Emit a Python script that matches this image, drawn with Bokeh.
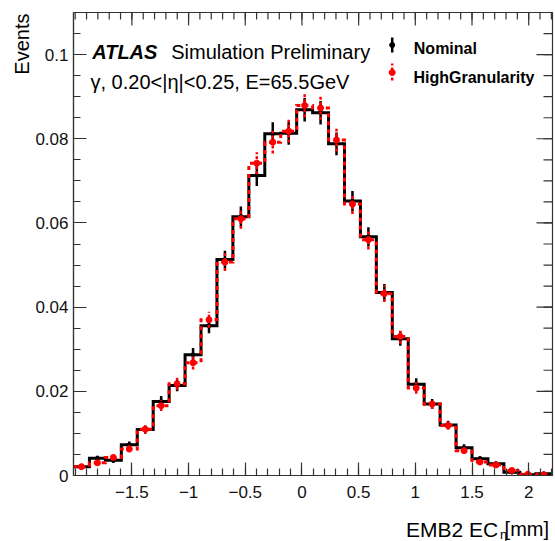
import numpy as np
from bokeh.plotting import figure
from bokeh.models import FixedTicker, Label, Range1d, Title
from bokeh.layouts import column
from bokeh.embed import file_html
from bokeh.resources import INLINE

# ---------------- data ----------------
bin_lo, bin_hi, n_bins = -2.015, 2.203, 30

nominal = [0.0021, 0.0041, 0.0036, 0.0073, 0.0109, 0.0176, 0.0214, 0.0287, 0.0356, 0.0513,
           0.0615, 0.0713, 0.0812, 0.0813, 0.0869, 0.0862, 0.0788, 0.0652, 0.0567, 0.0435,
           0.0325, 0.0217, 0.0170, 0.0120, 0.0066, 0.0040, 0.0028, 0.0008, 0.0002, 0.0004]
nominal_err = [0.0004, 0.0006, 0.0006, 0.0008, 0.0010, 0.0013, 0.0014, 0.0016, 0.0018, 0.0021,
               0.0024, 0.0025, 0.0027, 0.0027, 0.0028, 0.0028, 0.0027, 0.0024, 0.0023, 0.0020,
               0.0017, 0.0014, 0.0012, 0.0010, 0.0008, 0.0006, 0.0005, 0.0003, 0.0001, 0.0002]

highgran = [0.0021, 0.0030, 0.0043, 0.0063, 0.0110, 0.0166, 0.0218, 0.0268, 0.0370, 0.0507,
            0.0610, 0.0742, 0.0792, 0.0818, 0.0879, 0.0873, 0.0797, 0.0645, 0.0560, 0.0432,
            0.0330, 0.0208, 0.0170, 0.0119, 0.0059, 0.0032, 0.0025, 0.0012, 0.0003, 0.0002]
highgran_err = [0.0004, 0.0005, 0.0006, 0.0008, 0.0010, 0.0013, 0.0014, 0.0016, 0.0019, 0.0021,
                0.0024, 0.0026, 0.0027, 0.0027, 0.0028, 0.0028, 0.0027, 0.0024, 0.0023, 0.0020,
                0.0017, 0.0014, 0.0012, 0.0010, 0.0008, 0.0005, 0.0005, 0.0003, 0.0002, 0.0001]

x_ticks = [-1.5, -1.0, -0.5, 0.0, 0.5, 1.0, 1.5, 2.0]
x_tick_labels = ["\u22121.5", "\u22121", "\u22120.5", "0", "0.5", "1", "1.5", "2"]
y_ticks = [0.0, 0.02, 0.04, 0.06, 0.08, 0.1]
y_tick_labels = ["0", "0.02", "0.04", "0.06", "0.08", "0.1"]

series_names = ["Nominal", "HighGranularity"]

# ---------------- layout ----------------
X_START, X_END = -2.015, 2.21
Y_START, Y_END = 0.0, 0.11
W = 555
H_MAIN, H_TITLE = 510, 31
FL, FR, FT, FB = 73, 552, 12, 475  # frame edges in pixels
FONT = "Liberation Sans"
AX = "#333333"
RED = "#ff0000"

edges = np.linspace(bin_lo, bin_hi, n_bins + 1)
centers = 0.5 * (edges[:-1] + edges[1:])

XPP = (X_END - X_START) / (FR - FL)   # data per pixel
YPP = (Y_END - Y_START) / (FB - FT)

def px2x(px):
    return X_START + (px - FL) * XPP

def px2y(py):
    return Y_START + (FB - py) * YPP

p = figure(width=W, height=H_MAIN, x_range=Range1d(X_START, X_END), y_range=Range1d(Y_START, Y_END),
           output_backend="svg", toolbar_location=None,
           min_border_left=FL, min_border_right=W - FR, min_border_top=FT, min_border_bottom=H_MAIN - FB)
p.grid.visible = False
p.outline_line_color = AX
p.outline_line_width = 1.2
p.background_fill_color = "white"
p.border_fill_color = "white"

x_minor = list(np.round(np.arange(-2.0, 2.21, 0.1), 3))
y_minor = list(np.round(np.arange(0.0, 0.1101, 0.005), 4))

def style_axis(ax, major_in, minor_in):
    ax.major_tick_in = major_in
    ax.major_tick_out = 0
    ax.minor_tick_in = minor_in
    ax.minor_tick_out = 0
    ax.major_tick_line_color = AX
    ax.minor_tick_line_color = AX
    ax.major_tick_line_width = 1.2
    ax.minor_tick_line_width = 1.2
    ax.axis_line_color = AX
    ax.axis_line_width = 1.2
    ax.major_label_text_font = FONT
    ax.major_label_text_font_size = "17px"
    ax.major_label_text_color = "#111111"

p.xaxis.ticker = FixedTicker(ticks=x_ticks, minor_ticks=x_minor)
p.xaxis.major_label_overrides = dict(zip(x_ticks, x_tick_labels))
style_axis(p.xaxis[0], 13, 7)
p.xaxis.major_label_standoff = 10

p.yaxis.ticker = FixedTicker(ticks=y_ticks, minor_ticks=y_minor)
p.yaxis.major_label_overrides = dict(zip(y_ticks, y_tick_labels))
style_axis(p.yaxis[0], 13, 7)
p.yaxis.major_label_standoff = 5

# ticks on the top and right frame edges (ROOT style), from the same tick lists
p.segment(x0=x_ticks, y0=[Y_END] * len(x_ticks), x1=x_ticks, y1=[Y_END - 13 * YPP] * len(x_ticks),
          line_color=AX, line_width=1.2)
p.segment(x0=x_minor, y0=[Y_END] * len(x_minor), x1=x_minor, y1=[Y_END - 7 * YPP] * len(x_minor),
          line_color=AX, line_width=1.2)
p.segment(x0=[X_END] * len(y_ticks), y0=y_ticks, x1=[X_END - 16 * XPP] * len(y_ticks), y1=y_ticks,
          line_color=AX, line_width=1.2)
p.segment(x0=[X_END] * len(y_minor), y0=y_minor, x1=[X_END - 9 * XPP] * len(y_minor), y1=y_minor,
          line_color=AX, line_width=1.2)

# y-axis title, aligned to the top as in ROOT
p.add_layout(Title(text="Events", align="right", text_font=FONT, text_font_size="20px",
                   text_font_style="normal", text_color="black", offset=1, standoff=0), "left")

# ---------------- histograms ----------------
nom_step = list(nominal) + [nominal[-1]]
hg_step = list(highgran) + [highgran[-1]]

p.step(x=edges, y=nom_step, mode="after", line_color="black", line_width=3, line_join="miter")
p.segment(x0=centers, y0=np.array(nominal) - np.array(nominal_err),
          x1=centers, y1=np.array(nominal) + np.array(nominal_err),
          line_color="black", line_width=2.5)
p.scatter(x=centers, y=nominal, size=4, color="black")

p.step(x=edges, y=hg_step, mode="after", line_color=RED, line_width=3,
       line_dash="4 4", line_join="miter")
p.segment(x0=centers, y0=np.array(highgran) - np.array(highgran_err),
          x1=centers, y1=np.array(highgran) + np.array(highgran_err),
          line_color=RED, line_width=2.5, line_dash="3 2")
p.scatter(x=centers, y=highgran, size=6, color=RED)

# ---------------- legend (manual) ----------------
lx = px2x(391.7)
p.segment(x0=[lx], y0=[px2y(52)], x1=[lx], y1=[px2y(37)], line_color="black", line_width=2.5)
p.scatter(x=[lx], y=[px2y(44.5)], size=5, color="black")
p.segment(x0=[lx], y0=[px2y(80)], x1=[lx], y1=[px2y(63)], line_color=RED,
          line_width=2.5, line_dash="3 2")
p.scatter(x=[lx], y=[px2y(72)], size=6, color=RED)

def add_text(fig, txt, x, y, size, style="normal", align="left", baseline="alphabetic"):
    fig.add_layout(Label(x=x, y=y, text=txt, text_font=FONT, text_font_size=size,
                         text_font_style=style, text_align=align, text_baseline=baseline,
                         text_color="black"))

add_text(p, series_names[0], px2x(413.3), px2y(48.3), "16px", "bold")
add_text(p, series_names[1], px2x(413.0), px2y(76.5), "16px", "bold")
add_text(p, "ATLAS", px2x(91.7), px2y(51.7), "20px", "bold italic")
add_text(p, "Simulation Preliminary", px2x(170.7), px2y(51.7), "20px")
add_text(p, "\u03b3, 0.20<|\u03b7|<0.25, E=65.5GeV", px2x(90.0), px2y(81.0), "20px")

# ---------------- x-axis title strip ----------------
q = figure(width=W, height=H_TITLE, x_range=Range1d(0, W), y_range=Range1d(0, H_TITLE),
           output_backend="svg", toolbar_location=None, x_axis_type=None, y_axis_type=None,
           min_border_left=0, min_border_right=0, min_border_top=0, min_border_bottom=0)
q.grid.visible = False
q.outline_line_color = None
q.background_fill_color = "white"
q.border_fill_color = "white"

BOTTOM = H_MAIN + H_TITLE
add_text(q, "[mm]", 551.0, BOTTOM - 528.5, "20px", align="right")
add_text(q, "\u03b7", 502.5, BOTTOM - 533.5, "13px", align="right")
add_text(q, "EMB2 EC", 492.0, BOTTOM - 528.5, "21px", align="right")

layout = column(p, q, spacing=0)
open("out.html", "w").write(file_html(layout, INLINE))
